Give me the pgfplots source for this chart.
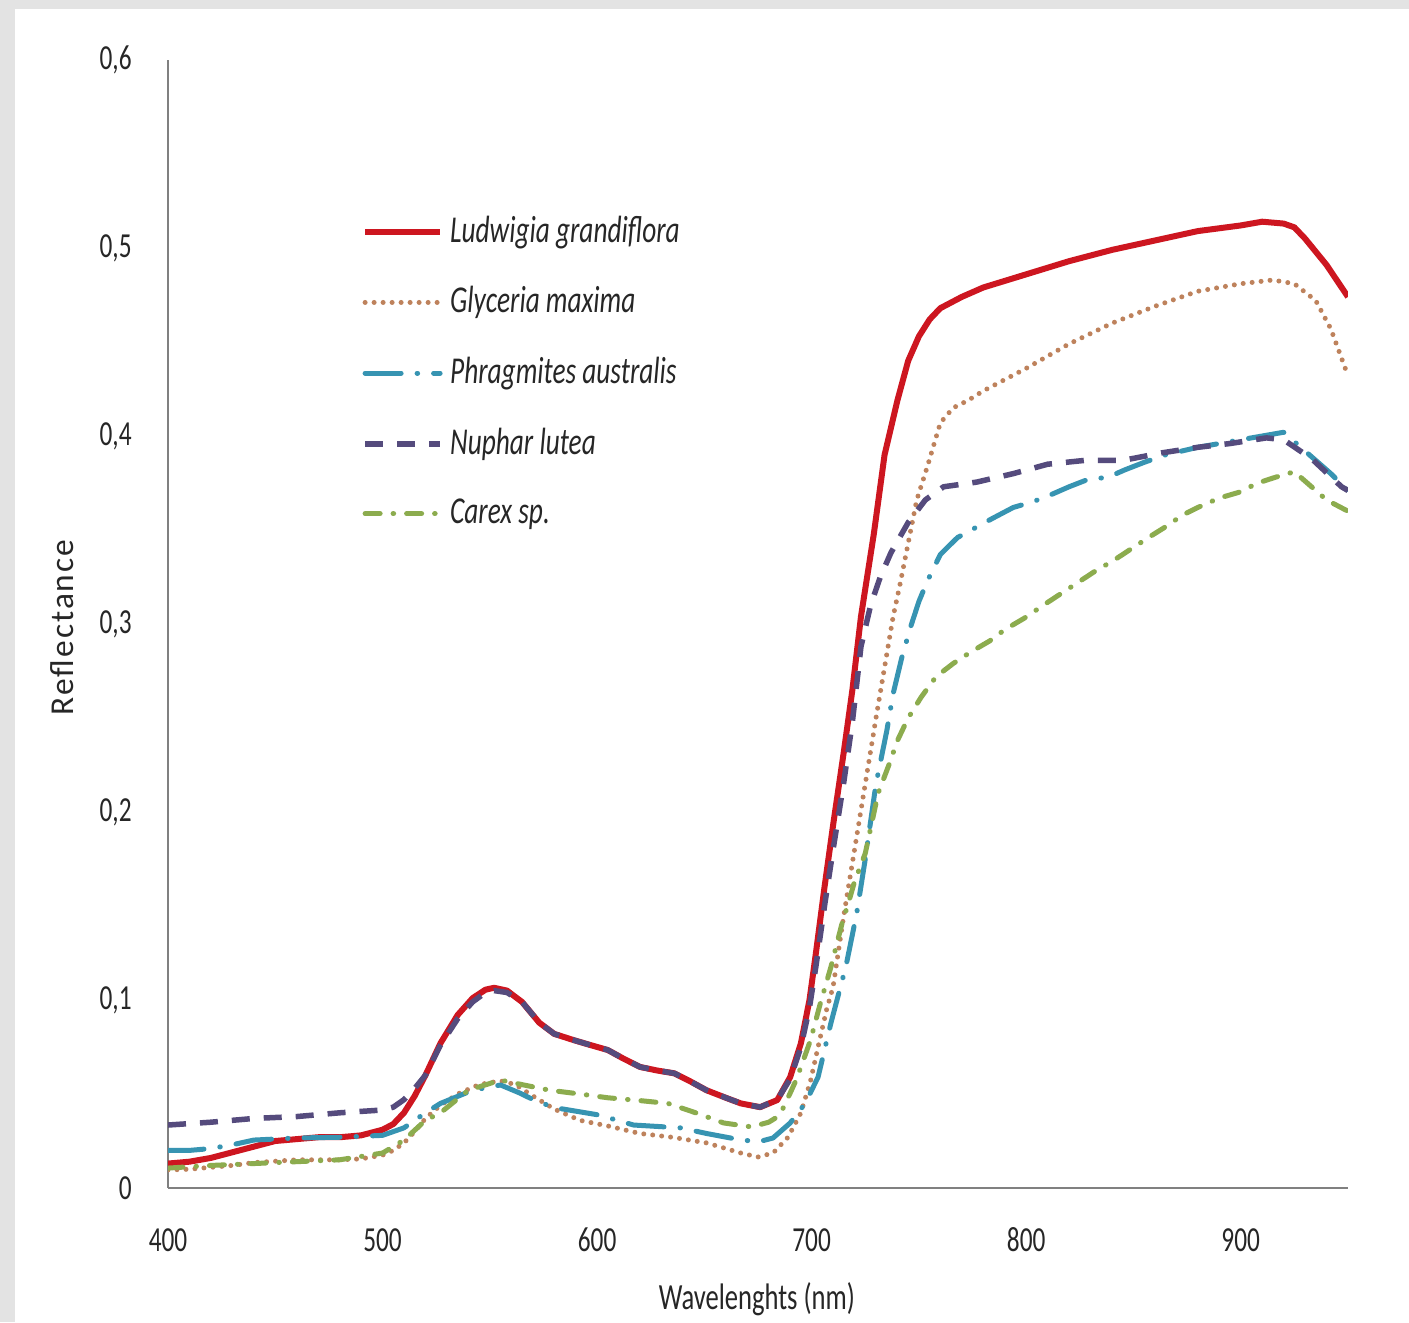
\documentclass[border=0pt]{standalone}
\usepackage{fontspec}
\setmainfont{Carlito}[FakeStretch=0.72]
\newfontfamily\reffont{Carlito}[LetterSpace=6]
\usepackage{pgfplots}
\pgfplotsset{compat=1.18}
\usepackage{pgfplotstable}
\definecolor{cLud}{RGB}{205,22,32}
\definecolor{cGly}{RGB}{190,130,92}
\definecolor{cPhr}{RGB}{55,148,178}
\definecolor{cNup}{RGB}{85,75,125}
\definecolor{cCar}{RGB}{140,172,78}
\definecolor{axgray}{RGB}{128,128,128}

\pgfplotstableread{
x y
400 0.013
410 0.014
420 0.016
430 0.019
440 0.022
450 0.025
460 0.026
470 0.027
480 0.027
490 0.028
500 0.031
505 0.034
510 0.040
515 0.049
520 0.060
527 0.077
535 0.092
542 0.101
548 0.1055
552 0.1065
558 0.105
565 0.099
573 0.088
580 0.082
589 0.0787
597 0.076
605 0.0734
612 0.069
620 0.0644
628 0.0625
636 0.061
643 0.057
651 0.052
660 0.048
667 0.045
676 0.043
684 0.0468
690 0.059
695 0.077
699 0.100
702 0.125
706 0.160
710 0.193
715 0.232
719 0.265
723 0.304
729 0.348
734 0.390
740 0.419
745 0.440
750 0.453
755 0.462
760 0.468
770 0.474
780 0.479
800 0.486
820 0.493
840 0.499
860 0.504
880 0.509
900 0.512
910 0.514
920 0.513
925 0.511
930 0.505
940 0.491
950 0.474
}\ludwigia

\pgfplotstableread{
x y
400 0.0096
410 0.010
420 0.011
430 0.012
440 0.0135
460 0.015
480 0.015
490 0.0155
500 0.0175
505 0.020
510 0.024
515 0.030
520 0.037
527 0.044
535 0.050
545 0.055
555 0.057
562 0.055
570 0.049
580 0.042
592 0.036
605 0.033
620 0.029
635 0.027
651 0.024
660 0.021
667 0.0186
675 0.0165
682 0.0186
689 0.027
695 0.040
699.5 0.057
703 0.075
707 0.095
710 0.107
715 0.145
720 0.180
725 0.215
730 0.250
734 0.277
738 0.304
741 0.320
745 0.343
749 0.366
754 0.384
760 0.407
766 0.415
773 0.419
780 0.424
790 0.430
800 0.436
820 0.449
840 0.460
860 0.469
880 0.477
900 0.481
915 0.483
925 0.481
935 0.472
942 0.457
950 0.432
}\glyceria

\pgfplotstableread{
x y
400 0.020
410 0.020
420 0.021
430 0.023
440 0.0255
460 0.0266
480 0.027
500 0.028
505 0.030
510 0.032
520 0.040
527 0.045
542 0.052
555 0.0548
564 0.0505
572 0.046
581 0.0426
601 0.0388
617 0.0335
639 0.032
651 0.029
665 0.026
675 0.0245
682 0.0266
690 0.0346
697 0.045
703 0.059
709 0.0878
716 0.118
721 0.146
725 0.175
730 0.215
735 0.243
738 0.263
742 0.282
746 0.298
750 0.312
754 0.323
760 0.337
768 0.346
776 0.351
784 0.356
794 0.362
803 0.365
812 0.369
820 0.373
829 0.377
838 0.378
846 0.382
855 0.386
865 0.390
880 0.394
900 0.398
910 0.400
920 0.402
926 0.396
935 0.387
942 0.380
950 0.371
}\phragmites

\pgfplotstableread{
x y
400 0.0335
420 0.035
440 0.037
460 0.038
480 0.040
500 0.0415
505 0.043
510 0.047
515 0.053
520 0.060
527 0.076
535 0.090
542 0.099
548 0.104
552 0.105
558 0.104
565 0.099
573 0.088
580 0.082
589 0.0787
597 0.076
605 0.0734
612 0.069
620 0.0644
628 0.0625
636 0.061
643 0.057
651 0.052
660 0.048
667 0.045
676 0.043
684 0.047
690 0.058
695 0.075
699 0.096
702 0.118
706 0.150
710 0.180
715 0.216
719 0.248
723 0.288
727.5 0.310
732 0.325
737 0.338
745 0.354
753 0.366
761.5 0.373
777 0.3755
794 0.380
810 0.385
827 0.387
845 0.387
863 0.391
880 0.394
895 0.396
912 0.399
920 0.398
933 0.388
947 0.373
950 0.371
}\nuphar

\pgfplotstableread{
x y
400 0.0106
420 0.012
440 0.013
460 0.014
480 0.015
500 0.0186
505 0.022
510 0.0255
520 0.036
527 0.040
540 0.052
555 0.0574
565 0.055
578 0.052
592 0.050
605 0.048
620 0.0465
633 0.045
646 0.040
659 0.0346
672 0.0325
680 0.035
684 0.0378
687 0.043
693 0.058
699.5 0.0787
704 0.098
709 0.1176
714 0.140
718 0.155
720 0.163
725 0.178
731 0.210
736 0.225
740 0.238
745 0.250
751 0.261
758 0.272
766 0.279
774 0.285
783 0.291
790 0.297
799 0.303
808 0.310
816 0.316
824 0.322
832 0.328
841 0.334
849 0.340
857 0.346
864 0.351
873 0.358
880 0.362
890 0.367
899 0.370
908 0.375
916 0.378
925 0.381
933 0.373
940 0.366
950 0.360
}\carex

\begin{document}
\begin{tikzpicture}
\fill[gray!22] (0,0) rectangle (140.9mm,132.2mm);
\fill[white] (1.5mm,0) rectangle (140.9mm,131.3mm);
\begin{axis}[
  at={(16.8mm,13.4mm)}, anchor=south west,
  scale only axis, width=118mm, height=112.8mm,
  xmin=400, xmax=950, ymin=0, ymax=0.6,
  axis x line*=bottom, axis y line*=left,
  axis line style={draw=axgray, line width=0.25mm},
  xtick={400,500,600,700,800,900},
  xticklabels={400,500,600,700,800,900},
  ytick={0,0.1,0.2,0.3,0.4,0.5,0.6},
  yticklabels={0,{0,1},{0,2},{0,3},{0,4},{0,5},{0,6}},
  major tick length=0pt,
  tick label style={font=\fontsize{10}{12}\selectfont, text=black!85},
  xticklabel style={anchor=center, yshift=-5.2mm},
  yticklabel style={anchor=east, xshift=-2.4mm},
  xlabel={Wavelenghts (nm)},
  xlabel style={at={(axis description cs:0.499,-0.099)}, anchor=center, font=\fontsize{10.5}{12}\selectfont, text=black!85},
  ylabel={Reflectance},
  ylabel style={at={(axis description cs:-0.0898,0.497)}, anchor=center, font=\reffont\fontsize{9.5}{11}\selectfont, text=black!85},
  legend style={at={(rel axis cs:0.1645,0.868)}, anchor=north west, draw=none, fill=none,
    inner sep=0pt, outer sep=0pt, row sep=2.5mm, column sep=0mm,
    font=\itshape\fontsize{10.8}{12}\selectfont, text=black!85},
  legend cell align=left,
  legend image code/.code={\draw[#1] (0mm,0mm) -- (7.5mm,0mm);},
  line join=round,
]
\addplot[cLud, line width=0.6mm, solid] table[x=x,y=y] {\ludwigia};
\addlegendentry{Ludwigia grandiflora}
\addplot[cGly, line width=0.5mm, line cap=round, dash pattern=on 0pt off 0.9mm] table[x=x,y=y] {\glyceria};
\addlegendentry{Glyceria maxima}
\addplot[cPhr, line width=0.5mm, line cap=round, dash pattern=on 3.6mm off 1.6mm on 0.05mm off 1.6mm] table[x=x,y=y] {\phragmites};
\addlegendentry{Phragmites australis}
\addplot[cNup, line width=0.55mm, dash pattern=on 1.8mm off 1.4mm] table[x=x,y=y] {\nuphar};
\addlegendentry{Nuphar lutea}
\addplot[cCar, line width=0.5mm, line cap=round, dash pattern=on 1.5mm off 1.3mm on 0.05mm off 1.3mm] table[x=x,y=y] {\carex};
\addlegendentry{Carex sp.}
\end{axis}
\pgfresetboundingbox
\path[use as bounding box] (0,0) rectangle (140.9mm,132.2mm);
\end{tikzpicture}
\end{document}
